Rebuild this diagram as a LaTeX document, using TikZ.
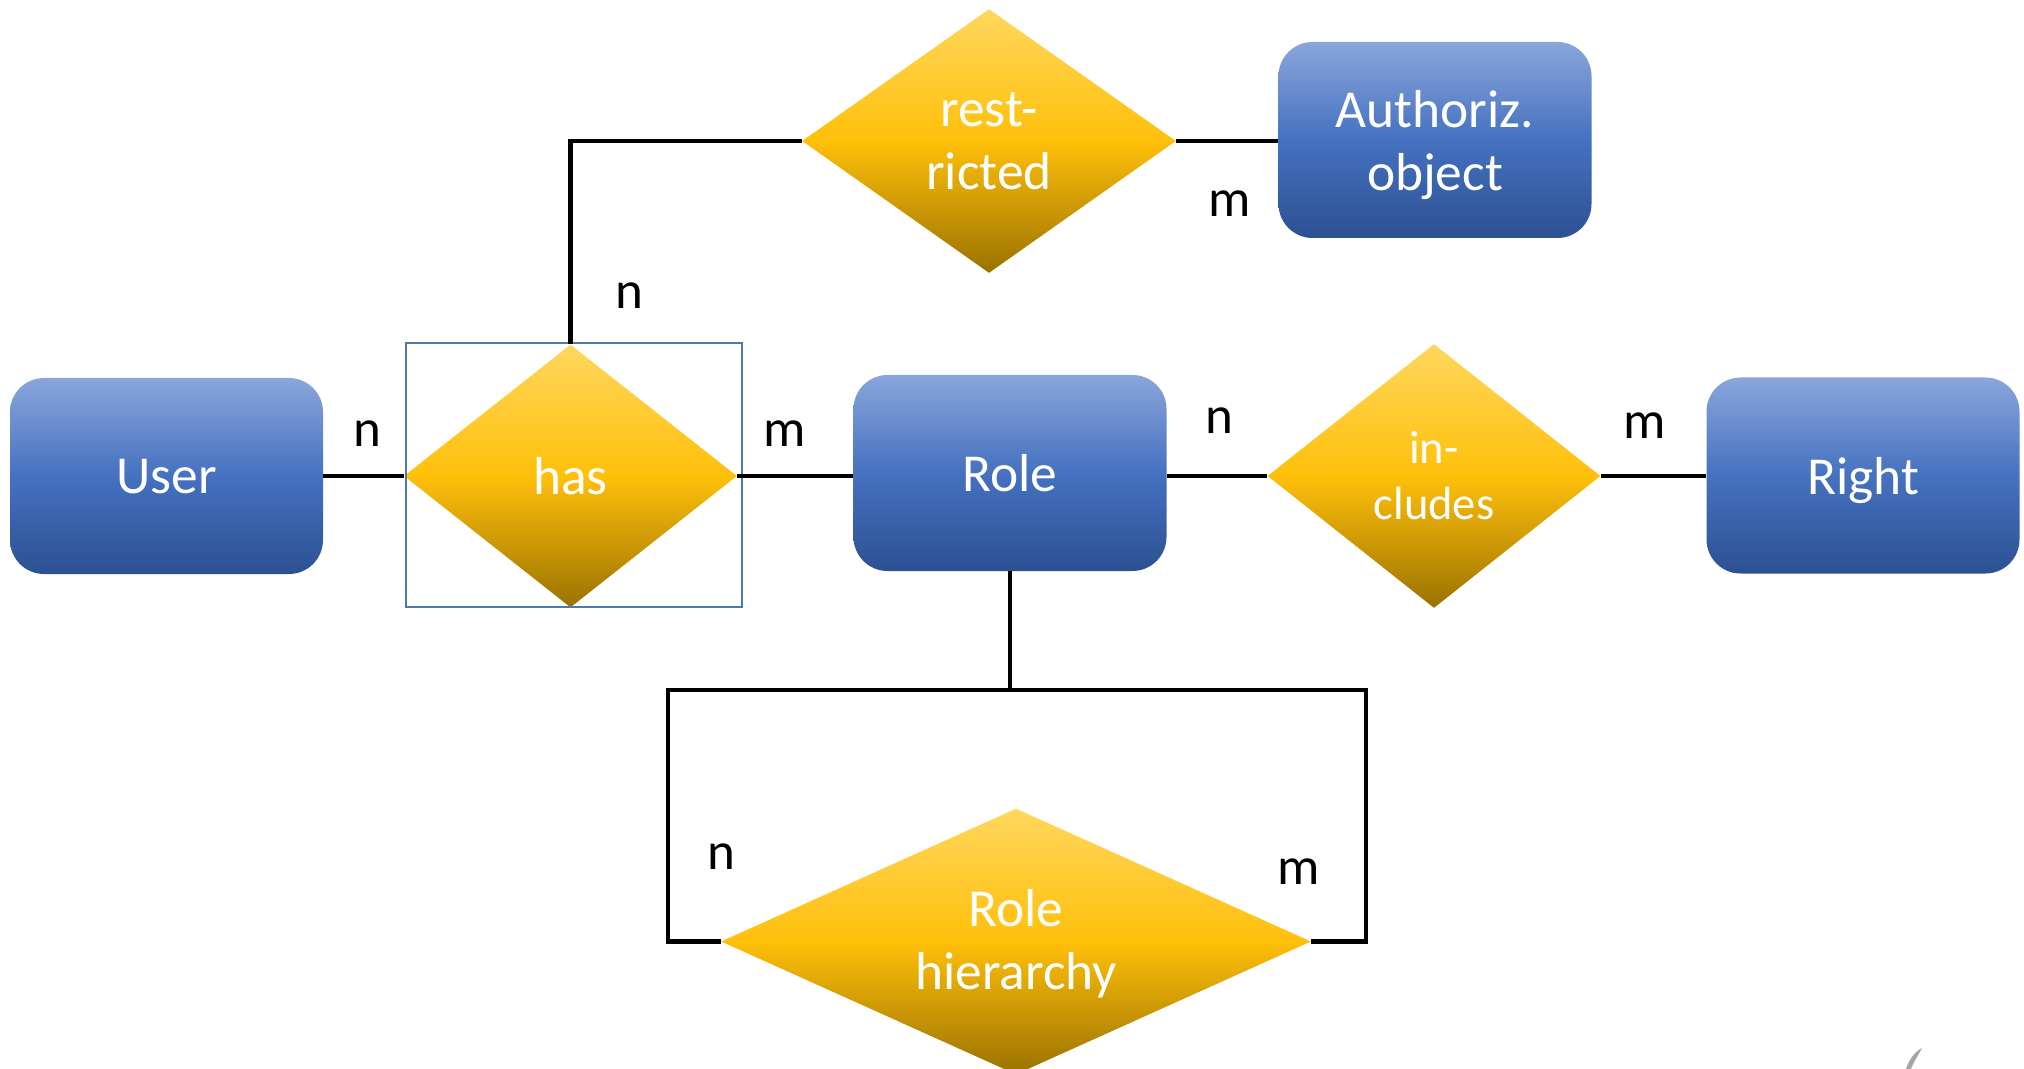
\documentclass[tikz,border=0pt]{standalone}
\usepackage{fontspec}
\setmainfont{Carlito}
\usetikzlibrary{shapes.geometric}
\definecolor{bluetop}{HTML}{8AA6DB}
\definecolor{bluemid}{HTML}{4571C0}
\definecolor{bluebot}{HTML}{2C5192}
\definecolor{goldtop}{HTML}{FFD75E}
\definecolor{goldmid}{HTML}{FFC00A}
\definecolor{goldbot}{HTML}{9A7200}
\definecolor{framecol}{HTML}{4F7AA8}
\tikzset{
  entitybox/.style={rectangle,rounded corners=17pt,inner sep=0pt,
    minimum width=156.5pt,minimum height=98pt,
    bottom color=bluebot,top color=bluetop,middle color=bluemid,
    text=white,align=center,font=\fontsize{26.7}{31.5}\selectfont},
  relation/.style={diamond,inner sep=0pt,
    bottom color=goldbot,top color=goldtop,middle color=goldmid,
    text=white,align=center,font=\fontsize{26.7}{31.5}\selectfont},
  link/.style={draw=black,line width=2.2pt},
  card/.style={text=black,inner sep=0pt,font=\fontsize{26.5}{31}\selectfont},
}
\begin{document}
\begin{tikzpicture}[x=0.5pt,y=-0.5pt]
\clip (0,0) rectangle (2024,1069);
\fill[white] (0,0) rectangle (2024,1069);
% connectors' free corners
\coordinate (trunk) at (1010.5,690);
\coordinate (loopNW) at (668,690);
\coordinate (loopNE) at (1366,690);
\coordinate (loopSW) at (668,941.5);
\coordinate (loopSE) at (1366,941.5);
% entities
\node[entitybox,text depth=0pt] (user) at (166.5,476) {User};
\node[entitybox] (role) at (1010,473) {Role};
\node[entitybox,text depth=0pt] (right) at (1863,475.5) {Right};
\node[entitybox,text depth=0pt] (auth) at (1435,140) {Authoriz.\\object};
% relations
\node[relation,shape aspect=1.26,minimum width=166.5pt,minimum height=131.5pt] (has) at (570.5,476) {has};
\node[relation,shape aspect=1.26,minimum width=166.5pt,minimum height=132pt,font=\fontsize{23.3}{28}\selectfont] (incl) at (1434,476) {in-\\cludes};
\node[relation,shape aspect=1.42,minimum width=187pt,minimum height=132pt] (rest) at (989,141) {rest-\\ricted};
\node[relation,shape aspect=2.2,minimum width=295pt,minimum height=133pt,text depth=2.5pt] (hier) at (1016,941.5) {Role\\hierarchy};
% frame
\node[draw=framecol,line width=1pt,inner sep=0pt,minimum width=168pt,minimum height=132pt] (frame) at (574,475) {};
% connectors
\draw[link] (user.east) -- (has.west);
\draw[link] (has.east) -- (role.west |- has.east);
\draw[link] (role.east |- incl.west) -- (incl.west);
\draw[link] (incl.east) -- (right.west |- incl.east);
\draw[link] (has.north) |- (rest.west);
\draw[link] (rest.east) -- (auth.west |- rest.east);
\draw[link] (role.south) -- (role.south |- trunk);
\draw[link] (hier.west) -- (loopSW) -- (loopNW) -- (loopNE) -- (loopSE) -- (hier.east);
% labels
\node[card] (c1) at (367,434) {n};
\node[card] (c2) at (785,434) {m};
\node[card] (c3) at (629,296) {n};
\node[card] (c4) at (1230,204) {m};
\node[card] (c5) at (1219,421) {n};
\node[card] (c6) at (1645,426) {m};
\node[card] (c7) at (721,857) {n};
\node[card] (c8) at (1299,872) {m};
% stray mark at the lower edge
\fill[gray!70] (1922,1048) .. controls (1914,1052) and (1909,1060) .. (1906,1069) -- (1911,1069) .. controls (1914,1061) and (1919,1054) .. (1922,1048) -- cycle;
\end{tikzpicture}
\end{document}
